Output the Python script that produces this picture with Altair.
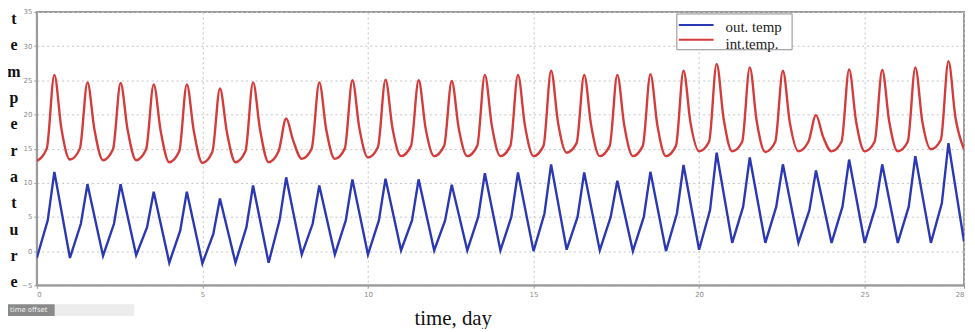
import altair as alt
import pandas as pd

# ---- data (one value per day) ----
out_trough = [-1.0, -1.0, -0.7, -0.6, -1.7, -1.8, -1.7, -1.7, -0.5, -0.5,
              -0.5, 0.1, 0.1, 0.1, 0.1, 0.0, 0.2, 0.1, 0.0, 0.0,
              0.2, 1.2, 1.2, 1.2, 1.2, 1.2, 1.2, 1.2, 1.4]
out_rise = [4.5, 4.0, 4.0, 3.5, 3.0, 2.5, 3.5, 4.5, 4.0, 4.5,
            4.5, 4.5, 4.5, 5.0, 5.0, 5.5, 5.0, 5.0, 5.0, 5.5,
            6.0, 6.5, 6.5, 6.0, 6.5, 6.5, 6.5, 7.0]
out_peak = [11.6, 9.8, 9.8, 8.7, 8.7, 7.7, 9.6, 10.8, 9.6, 10.5,
            10.6, 10.5, 9.7, 11.4, 11.5, 12.7, 11.5, 10.3, 11.6, 12.6,
            14.4, 13.7, 12.7, 11.8, 13.4, 12.7, 13.9, 15.8]

int_trough = [13.2, 13.4, 13.3, 13.3, 13.0, 12.9, 13.0, 13.0, 13.5, 13.5,
              13.7, 13.9, 13.9, 13.9, 13.9, 13.9, 14.4, 13.9, 13.9, 13.9,
              14.6, 14.6, 14.5, 14.6, 14.6, 14.6, 14.6, 14.9, 14.9]
int_rise = [15.0, 15.0, 14.9, 14.9, 14.6, 14.5, 14.6, 14.6, 15.0, 15.0,
            15.2, 15.4, 15.4, 15.4, 15.4, 15.4, 15.8, 15.4, 15.4, 15.4,
            16.0, 16.0, 16.0, 16.0, 16.0, 16.0, 16.0, 16.3]
int_peak = [25.8, 24.7, 24.6, 24.4, 24.4, 23.8, 24.7, 19.4, 24.7, 25.0,
            25.1, 25.0, 24.9, 25.8, 25.8, 26.4, 25.8, 25.8, 25.9, 26.4,
            27.4, 26.9, 26.4, 19.9, 26.6, 26.5, 26.9, 27.8]
int_fall = [18.0, 17.8, 17.8, 17.6, 17.6, 17.4, 17.8, 16.2, 17.8, 18.0,
            18.0, 18.0, 18.0, 18.4, 18.4, 18.8, 18.4, 18.4, 18.4, 18.8,
            19.4, 19.0, 18.8, 16.8, 19.0, 19.0, 19.0, 19.6]

series_names = ["out. temp", "int.temp."]
series_colors = ["#2b38b4", "#d43b3b"]
x_ticks = [0, 5, 10, 15, 20, 25, 28]
y_ticks = [-5, 0, 5, 10, 15, 20, 25, 30, 35]
ylabel_letters = list("temperature")

# ---- build tables (within-day phases of trough / shoulder / peak) ----
out_rows, int_rows = [], []
n_days = len(out_peak)
for k in range(n_days):
    out_rows += [
        {"series": series_names[0], "t": k, "v": out_trough[k]},
        {"series": series_names[0], "t": k + 0.33, "v": out_rise[k]},
        {"series": series_names[0], "t": k + 0.53, "v": out_peak[k]},
    ]
    int_rows += [
        {"series": series_names[1], "t": k, "v": int_trough[k]},
        {"series": series_names[1], "t": k + 0.30, "v": int_rise[k]},
        {"series": series_names[1], "t": k + 0.53, "v": int_peak[k]},
        {"series": series_names[1], "t": k + 0.74, "v": int_fall[k]},
    ]
out_rows.append({"series": series_names[0], "t": n_days, "v": out_trough[n_days]})
int_rows.append({"series": series_names[1], "t": n_days, "v": int_trough[n_days]})
df_out = pd.DataFrame(out_rows)
df_int = pd.DataFrame(int_rows)

W, H = 933, 275
TOP = 3

x_enc = alt.X("t:Q", title=None,
              scale=alt.Scale(domain=[0, 28], nice=False, zero=False),
              axis=alt.Axis(values=x_ticks, format="d"))
y_enc = alt.Y("v:Q", title=None,
              scale=alt.Scale(domain=[-5, 35], nice=False, zero=False),
              axis=alt.Axis(values=y_ticks, format="d"))
c_enc = alt.Color("series:N", scale=alt.Scale(domain=series_names, range=series_colors), legend=None)

line_out = alt.Chart(df_out).mark_line(strokeWidth=2.4, clip=True, interpolate="linear").encode(
    x=x_enc, y=y_enc, color=c_enc, order="t:Q")
line_int = alt.Chart(df_int).mark_line(strokeWidth=2.4, clip=True, interpolate="monotone").encode(
    x=x_enc, y=y_enc, color=c_enc, order="t:Q")

one = pd.DataFrame({"a": [0]})

# legend box
leg_box = alt.Chart(one).mark_rect(fill="white", stroke="#8c8c8c", strokeWidth=1).encode(
    x=alt.value(644), x2=alt.value(760), y=alt.value(5 - TOP), y2=alt.value(41 - TOP))
leg_layers = [leg_box]
for i, (name, col) in enumerate(zip(series_names, series_colors)):
    yy = 16 + 15 * i - TOP
    leg_layers.append(alt.Chart(one).mark_rule(color=col, strokeWidth=2).encode(
        x=alt.value(646), x2=alt.value(681), y=alt.value(yy)))
    leg_layers.append(alt.Chart(one).mark_text(
        text=name, font="Liberation Serif", fontSize=15, align="left", baseline="middle",
        color="#222").encode(x=alt.value(693), y=alt.value(yy + 2 + 2 * i)))

# y label written as stacked letters
letter_layers = []
for i, ch in enumerate(ylabel_letters):
    letter_layers.append(alt.Chart(one).mark_text(
        text=ch, font="Liberation Serif", fontSize=16, fontWeight="bold",
        align="center", baseline="middle", color="#111").encode(
        x=alt.value(-23), y=alt.value(10 - TOP + 26.5 * i)))

xtitle = alt.Chart(one).mark_text(
    text="time, day", font="Liberation Serif", fontSize=21, align="center",
    baseline="alphabetic", color="#111").encode(x=alt.value(419), y=alt.value(318 - TOP))

offset_bar = alt.Chart(one).mark_rect(fill="#ececec").encode(
    x=alt.value(18), x2=alt.value(98), y=alt.value(297 - TOP), y2=alt.value(309 - TOP))
offset_btn = alt.Chart(one).mark_rect(fill="#8a8a8a").encode(
    x=alt.value(-29), x2=alt.value(18), y=alt.value(297 - TOP), y2=alt.value(309 - TOP))
offset_txt = alt.Chart(one).mark_text(
    text="time offset", fontSize=7, color="#f0f0f0", align="left", baseline="middle",
    font="DejaVu Sans").encode(x=alt.value(-27), y=alt.value(303 - TOP))

chart = alt.layer(
    line_out, line_int, *leg_layers, *letter_layers, xtitle, offset_bar, offset_btn, offset_txt
).properties(
    width=W, height=H,
    autosize="none",
    padding={"left": 29, "top": TOP, "right": 3, "bottom": 43},
    background="white",
).configure_view(
    stroke="#9a9a9a", strokeWidth=2
).configure_axis(
    labelFontSize=7, labelColor="#8a8a8a", labelFont="DejaVu Sans",
    domainColor="#9a9a9a", domainWidth=1.5,
    tickColor="#9a9a9a", tickSize=3, labelPadding=2,
    grid=True, gridColor="#c4c4c4", gridDash=[2, 3], gridWidth=1,
)

chart.save("out.html", embed_options={"renderer": "svg", "actions": False})
